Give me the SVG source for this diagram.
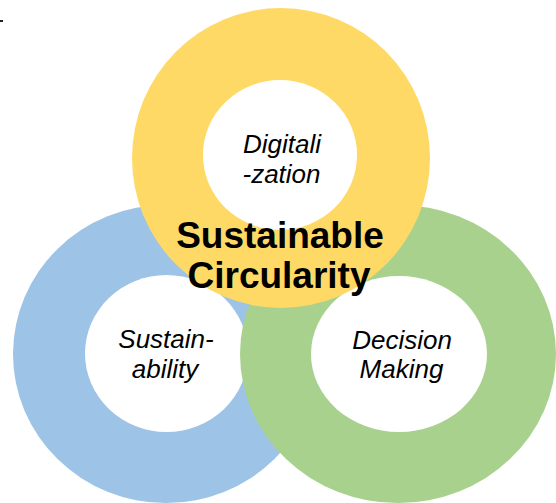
<svg xmlns="http://www.w3.org/2000/svg" width="556" height="503" viewBox="0 0 556 503">
  <style>
    .hole { fill: #FFFFFF; }
    .lbl { font-family: "Liberation Sans", Arial, sans-serif; font-style: italic; font-size: 26px; fill: #000000; text-anchor: middle; }
    .title { font-family: "Liberation Sans", Arial, sans-serif; font-weight: bold; font-size: 37px; fill: #000000; text-anchor: middle; }
  </style>
  <rect x="0" y="0" width="556" height="503" fill="#FFFFFF"/>
  <rect id="mark" x="0" y="20" width="3" height="2" fill="#222222"/>
  <g id="sustainability">
    <ellipse cx="166" cy="354" rx="153" ry="149" fill="#9DC3E6"/>
    <ellipse class="hole" cx="166.5" cy="353.5" rx="81.5" ry="78.5"/>
    <text class="lbl" x="166" y="348">Sustain-</text>
    <text class="lbl" x="165" y="378">ability</text>
  </g>
  <g id="decision-making">
    <ellipse cx="398" cy="354" rx="158" ry="149" fill="#A9D18E"/>
    <ellipse class="hole" cx="399" cy="354" rx="88" ry="78"/>
    <text class="lbl" x="402" y="349">Decision</text>
    <text class="lbl" x="401.5" y="378">Making</text>
  </g>
  <g id="digitalization">
    <ellipse cx="281" cy="158" rx="149" ry="150" fill="#FFD966"/>
    <ellipse class="hole" cx="280" cy="155" rx="77" ry="75"/>
    <text class="lbl" x="282" y="153">Digitali</text>
    <text class="lbl" x="281.5" y="183">-zation</text>
  </g>
  <g id="sustainable-circularity">
    <text class="title" x="280" y="248">Sustainable</text>
    <text class="title" x="279" y="288">Circularity</text>
  </g>
</svg>
